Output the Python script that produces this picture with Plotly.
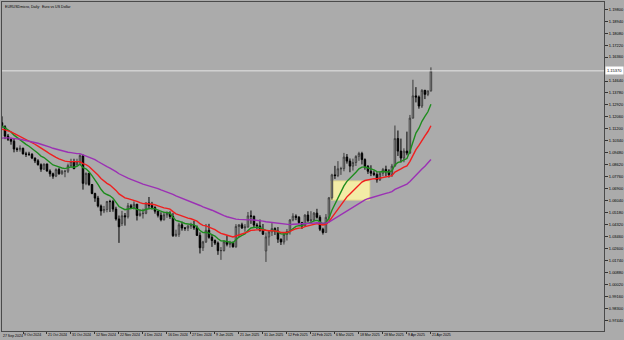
import pandas as pd
import plotly.graph_objects as go

# ---------------- data ----------------
dates = pd.bdate_range("2024-09-27", "2025-04-21")
dates = [d for d in dates if not (d.month == 12 and d.day == 25) and not (d.month == 1 and d.day == 1)]

# daily closes before the first visible bar (used only to start the moving averages)
prior_closes = [1.0890,1.0845,1.0842,1.0850,1.0855,1.0821,1.0817,1.0825,
                1.0790,1.0911,1.0955,1.0930,1.0923,1.0919,1.0916,1.0932,1.0992,1.1012,
                1.0982,1.1028,1.1078,1.1130,1.1151,1.1114,1.1192,1.1162,1.1184,1.1120,
                1.1077,1.1048,1.1073,1.1045,1.1086,1.1112,1.1083,1.1038,1.1017,1.1010,
                1.1075,1.1076,1.1132,1.1118,1.1117,1.1163,1.1163,1.1110,1.1180,1.1133,
                1.1177]

opens = [1.1177,1.1164,1.1135,1.1068,1.1045,1.1031,1.0975,1.0973,1.0980,1.0940,
         1.0937,1.0937,1.0910,1.0890,1.0862,1.0830,1.0867,1.0817,1.0797,1.0780,
         1.0827,1.0797,1.0815,1.0815,1.0856,1.0885,1.0860,1.0882,1.0925,1.0728,
         1.0800,1.0720,1.0655,1.0622,1.0565,1.0530,1.0540,1.0598,1.0597,1.0543,
         1.0472,1.0440,1.0495,1.0488,1.0567,1.0553,1.0578,1.0497,1.0510,1.0513,
         1.0587,1.0568,1.0555,1.0528,1.0498,1.0467,1.0502,1.0513,1.0490,1.0352,
         1.0362,1.0430,1.0407,1.0406,1.0421,1.0427,1.0408,1.0354,1.0265,1.0307,
         1.0390,1.0340,1.0317,1.0299,1.0244,1.0245,1.0308,1.0290,1.0301,1.0272,
         1.0418,1.0430,1.0408,1.0414,1.0494,1.0492,1.0428,1.0422,1.0390,1.0242,
         1.0343,1.0379,1.0403,1.0384,1.0327,1.0307,1.0361,1.0381,1.0465,1.0492,
         1.0484,1.0446,1.0422,1.0500,1.0459,1.0465,1.0514,1.0484,1.0398,1.0375,
         1.0484,1.0624,1.0789,1.0784,1.0833,1.0834,1.0917,1.0888,1.0852,1.0878,
         1.0922,1.0943,1.0899,1.0850,1.0815,1.0801,1.0791,1.0754,1.0800,1.0828,
         1.0817,1.0790,1.0852,1.1050,1.0960,1.0910,1.0960,1.0946,1.1197,1.1357,
         1.1349,1.1284,1.1397,1.1368,1.1393]
highs = [1.1209,1.1210,1.1146,1.1083,1.1056,1.1048,1.0987,1.1001,1.0985,1.0955,
         1.0955,1.0945,1.0914,1.0902,1.0872,1.0870,1.0870,1.0829,1.0805,1.0836,
         1.0840,1.0825,1.0823,1.0870,1.0905,1.0905,1.0905,1.0937,1.0936,1.0806,
         1.0804,1.0722,1.0661,1.0638,1.0576,1.0566,1.0600,1.0610,1.0610,1.0560,
         1.0497,1.0530,1.0515,1.0587,1.0580,1.0598,1.0580,1.0539,1.0546,1.0590,
         1.0630,1.0595,1.0563,1.0530,1.0520,1.0524,1.0525,1.0527,1.0514,1.0395,
         1.0445,1.0453,1.0412,1.0428,1.0445,1.0458,1.0425,1.0376,1.0315,1.0436,
         1.0437,1.0359,1.0325,1.0310,1.0270,1.0320,1.0354,1.0315,1.0310,1.0435,
         1.0433,1.0445,1.0435,1.0522,1.0533,1.0495,1.0442,1.0468,1.0436,1.0375,
         1.0388,1.0442,1.0412,1.0414,1.0331,1.0375,1.0400,1.0471,1.0513,1.0505,
         1.0493,1.0451,1.0506,1.0528,1.0528,1.0522,1.0545,1.0499,1.0409,1.0507,
         1.0630,1.0797,1.0854,1.0888,1.0847,1.0947,1.0939,1.0907,1.0906,1.0930,
         1.0955,1.0955,1.0908,1.0860,1.0858,1.0820,1.0808,1.0813,1.0839,1.0855,
         1.0830,1.0868,1.1144,1.1108,1.1050,1.0980,1.1100,1.1220,1.1473,1.1420,
         1.1360,1.1405,1.1400,1.1394,1.1562]
lows = [1.1137,1.1128,1.1046,1.1033,1.1006,1.0951,1.0955,1.0956,1.0936,1.0918,
        1.0925,1.0902,1.0874,1.0856,1.0811,1.0825,1.0812,1.0776,1.0761,1.0773,
        1.0790,1.0790,1.0772,1.0802,1.0843,1.0835,1.0860,1.0860,1.0683,1.0715,
        1.0710,1.0650,1.0595,1.0555,1.0496,1.0514,1.0520,1.0522,1.0524,1.0460,
        1.0300,1.0422,1.0424,1.0475,1.0546,1.0540,1.0461,1.0488,1.0475,1.0506,
        1.0545,1.0540,1.0510,1.0483,1.0455,1.0460,1.0480,1.0473,1.0343,1.0343,
        1.0343,1.0388,1.0387,1.0385,1.0400,1.0394,1.0350,1.0224,1.0242,1.0300,
        1.0330,1.0271,1.0285,1.0214,1.0178,1.0238,1.0275,1.0266,1.0266,1.0265,
        1.0341,1.0400,1.0380,1.0410,1.0437,1.0410,1.0400,1.0381,1.0358,1.0163,
        1.0280,1.0350,1.0357,1.0300,1.0285,1.0288,1.0317,1.0360,1.0455,1.0463,
        1.0436,1.0400,1.0420,1.0451,1.0443,1.0454,1.0475,1.0385,1.0360,1.0375,
        1.0460,1.0610,1.0760,1.0773,1.0789,1.0815,1.0870,1.0808,1.0820,1.0853,
        1.0890,1.0864,1.0826,1.0796,1.0780,1.0780,1.0733,1.0745,1.0780,1.0778,
        1.0770,1.0775,1.0850,1.0925,1.0878,1.0880,1.0930,1.0940,1.1195,1.1310,
        1.1265,1.1270,1.1334,1.1355,1.1388]
closes = [1.1164,1.1135,1.1068,1.1045,1.1031,1.0975,1.0973,1.0980,1.0940,1.0937,
          1.0937,1.0910,1.0890,1.0862,1.0830,1.0867,1.0817,1.0797,1.0780,1.0827,
          1.0797,1.0815,1.0815,1.0856,1.0885,1.0833,1.0882,1.0929,1.0728,1.0800,
          1.0720,1.0655,1.0622,1.0565,1.0530,1.0540,1.0598,1.0597,1.0543,1.0472,
          1.0416,1.0495,1.0488,1.0567,1.0553,1.0578,1.0497,1.0510,1.0513,1.0587,
          1.0568,1.0555,1.0528,1.0498,1.0467,1.0502,1.0513,1.0490,1.0352,1.0362,
          1.0430,1.0407,1.0406,1.0421,1.0427,1.0408,1.0354,1.0265,1.0307,1.0390,
          1.0340,1.0317,1.0299,1.0244,1.0245,1.0308,1.0290,1.0301,1.0272,1.0418,
          1.0430,1.0408,1.0414,1.0494,1.0492,1.0428,1.0422,1.0390,1.0362,1.0343,
          1.0379,1.0403,1.0384,1.0327,1.0307,1.0361,1.0381,1.0465,1.0492,1.0484,
          1.0446,1.0422,1.0500,1.0459,1.0465,1.0514,1.0484,1.0398,1.0375,1.0484,
          1.0624,1.0789,1.0784,1.0833,1.0834,1.0917,1.0888,1.0852,1.0878,1.0922,
          1.0943,1.0899,1.0850,1.0815,1.0801,1.0791,1.0754,1.0800,1.0828,1.0817,
          1.0790,1.0852,1.1050,1.0960,1.0910,1.0960,1.0946,1.1197,1.1357,1.1349,
          1.1284,1.1397,1.1368,1.1393,1.1537]

# exponential moving averages shown on the chart: (period, colour)
ma_specs = [(10, "#1e8c1e"), (20, "#f01e1e"), (50, "#9b30b4")]

ytick_vals = [0.9744,0.9830,0.9916,1.0002,1.0088,1.0174,1.0260,1.0346,1.0432,1.0518,
              1.0604,1.0690,1.0776,1.0862,1.0948,1.1034,1.1120,1.1206,1.1292,1.1378,
              1.1464,1.1636,1.1722,1.1808,1.1894,1.1980]
bid = 1.1537
box_dates = ["2025-03-05", "2025-03-21"]
box_prices = [1.0608, 1.0745]
title = "EURUSDmicro, Daily:  Euro vs US Dollar"

# ---------------- figure ----------------
n = len(dates)
xi = list(range(n))
fig = go.Figure()

fig.add_trace(go.Candlestick(
    x=xi, open=opens, high=highs, low=lows, close=closes,
    increasing=dict(line=dict(color="#3c3c3c", width=1), fillcolor="#d4d4d4"),
    decreasing=dict(line=dict(color="#000000", width=1), fillcolor="#000000"),
    whiskerwidth=0, showlegend=False, hoverinfo="skip"))

full = prior_closes + closes
off = len(prior_closes)
for p, col in ma_specs:
    a = 2.0 / (p + 1)
    ema = []
    v = full[0]
    for c in full:
        v = v + a * (c - v)
        ema.append(v)
    fig.add_trace(go.Scatter(x=xi, y=ema[off:], mode="lines",
                             line=dict(color=col, width=1.4),
                             showlegend=False, hoverinfo="skip"))

date_str = [d.strftime("%Y-%m-%d") for d in dates]
bx0 = date_str.index(box_dates[0]) - 0.3
bx1 = date_str.index(box_dates[1]) + 0.6
fig.add_shape(type="rect", x0=bx0, x1=bx1, y0=box_prices[0], y1=box_prices[1],
              fillcolor="#f3eca6", line=dict(color="#e6dc8c", width=1), layer="below")

fig.add_shape(type="line", xref="paper", x0=0, x1=1, y0=bid, y1=bid,
              line=dict(color="#e4e4e4", width=1))
fig.add_annotation(xref="paper", x=1.0, y=bid, xanchor="left", yanchor="middle",
                   text=f"{bid:.5f}", showarrow=False, bgcolor="#ffffff",
                   font=dict(size=4, color="#000000", family="Liberation Sans"),
                   borderpad=1, xshift=1)
fig.add_annotation(xref="paper", yref="paper", x=0.002, y=0.997, xanchor="left", yanchor="top",
                   text=title, showarrow=False,
                   font=dict(size=3.6, color="#000000", family="Liberation Sans"))

xt = list(range(0, n, 8))
xtext = [f"{dates[i].day} {dates[i].strftime('%b %Y')}" for i in xt]
# first date label sits at the clipped left edge
fig.add_annotation(xref="paper", yref="paper", x=0, y=0, xanchor="left", yanchor="top",
                   text=xtext[0], showarrow=False, yshift=-1, xshift=-1,
                   font=dict(size=3.5, color="#000000", family="Liberation Sans"))

fig.update_layout(
    width=624, height=340,
    margin=dict(l=2, r=20, t=2, b=9, autoexpand=False),
    paper_bgcolor="#ababab", plot_bgcolor="#ababab",
    font=dict(family="Liberation Sans", size=4, color="#000000"),
    xaxis=dict(range=[1.0, 201.7], showgrid=False, zeroline=False, automargin=False,
               rangeslider=dict(visible=False),
               tickvals=xt[1:], ticktext=xtext[1:], ticks="outside", ticklen=2,
               tickangle=0, tickcolor="#333333", ticklabelposition="outside right",
               showline=True, linecolor="#4a4a4a", linewidth=1, mirror=True,
               tickfont=dict(size=3.5, family="Liberation Sans")),
    yaxis=dict(range=[0.96665, 1.2032], side="right", showgrid=False, zeroline=False,
               automargin=False,
               tickvals=ytick_vals, ticktext=[f"{v:.5f}" for v in ytick_vals],
               ticks="outside", ticklen=3, tickcolor="#333333",
               showline=True, linecolor="#4a4a4a", linewidth=1, mirror=True,
               tickfont=dict(size=4, family="Liberation Sans")),
)

fig.write_html("out.html")
